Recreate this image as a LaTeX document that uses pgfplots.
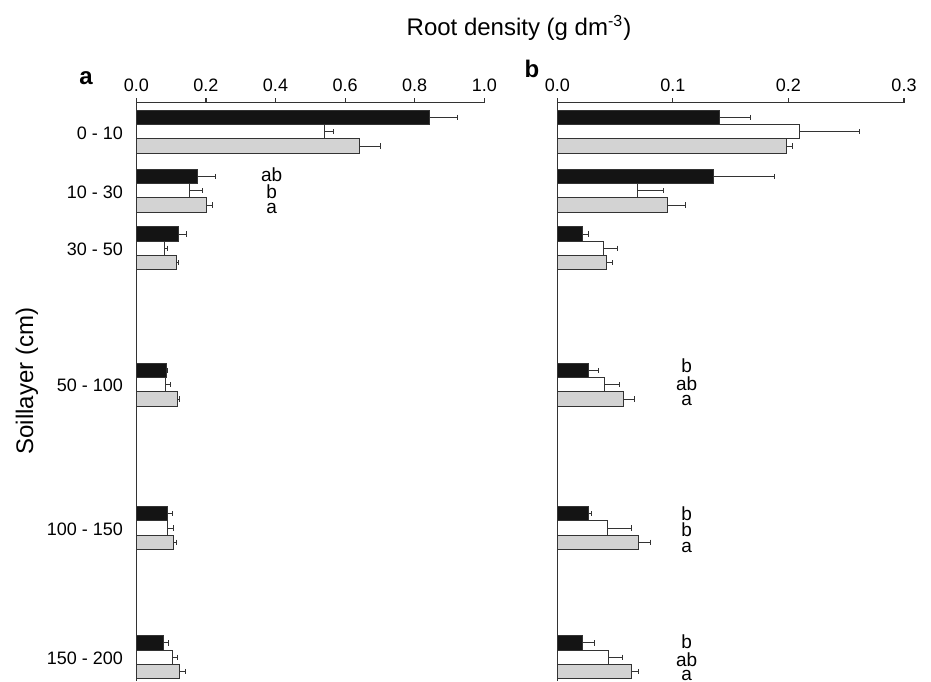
\documentclass[border=0pt]{standalone}
\usepackage{pgfplots}
\pgfplotsset{compat=1.18}
\usepackage{fontspec}
\setmainfont{Liberation Sans}
\definecolor{barblack}{HTML}{141414}
\definecolor{bargrey}{HTML}{D3D3D3}
\definecolor{edge}{HTML}{333333}
\pgfplotsset{
  rootaxis/.style={
    scale only axis, anchor=north west,
    height=289.15pt,
    ymin=-681, ymax=-102.7,
    axis x line*=top, axis y line*=left,
    axis line style={edge, line width=0.6pt, -},
    xtick pos=right, xticklabel pos=right,
    tick align=outside, major tick length=2.2pt,
    xtick style={edge, line width=0.6pt},
    ytick style={draw=none},
    ytick pos=left,
    clip=false,
    xbar, bar width=14.3, bar shift=0pt,
    tick label style={font=\fontsize{9}{10}\selectfont},
    /pgf/number format/assume math mode=true,
    /pgf/number format/fixed, /pgf/number format/fixed zerofill, /pgf/number format/precision=1,
  },
  errs/.style={
    error bars/x dir=plus, error bars/x explicit,
    error bars/error bar style={draw=edge, line width=0.5pt},
    error bars/error mark options={rotate=90, draw=edge, mark size=1.3pt, line width=0.5pt}},
  bb/.style={fill=barblack, draw=edge, line width=0.5pt, errs},
  bw/.style={fill=white, draw=edge, line width=0.5pt, errs},
  bg/.style={fill=bargrey, draw=edge, line width=0.5pt, errs},
}
\tikzset{sig/.style={font=\fontsize{9.5}{10}\selectfont, anchor=center, inner sep=0pt}}
\begin{document}
\begin{tikzpicture}
\useasboundingbox (0,0) rectangle (465.5pt,-340.5pt);
% panel a
\begin{axis}[rootaxis, at={(68.15pt,-51.35pt)}, width=174pt,
  xmin=0, xmax=1, xtick={0,0.2,0.4,0.6,0.8,1.0},
  ytick={-133,-192,-249.5,-385.5,-529,-658},
  yticklabels={0 - 10,10 - 30,30 - 50,50 - 100,100 - 150,150 - 200},
  yticklabel style={xshift=-1pt}]
\addplot[bb] coordinates {
 (0.842,-117.4) +- (0.081,0)
 (0.177,-176.4) +- (0.052,0)
 (0.122,-234.0) +- (0.023,0)
 (0.087,-370.4) +- (0.004,0)
 (0.089,-513.7) +- (0.014,0)
 (0.077,-642.9) +- (0.015,0)};
\addplot[bw] coordinates {
 (0.540,-131.7) +- (0.026,0)
 (0.152,-190.7) +- (0.038,0)
 (0.080,-248.3) +- (0.011,0)
 (0.083,-384.7) +- (0.016,0)
 (0.091,-528.0) +- (0.015,0)
 (0.103,-657.2) +- (0.015,0)};
\addplot[bg] coordinates {
 (0.641,-146.0) +- (0.062,0)
 (0.201,-205.0) +- (0.017,0)
 (0.115,-262.6) +- (0.007,0)
 (0.118,-399.0) +- (0.006,0)
 (0.108,-542.3) +- (0.007,0)
 (0.124,-671.5) +- (0.017,0)};
\node[sig] at (axis cs:0.389,-175) {ab};
\node[sig] at (axis cs:0.389,-191.5) {b};
\node[sig] at (axis cs:0.389,-208) {a};
\end{axis}
% panel b
\begin{axis}[rootaxis, at={(278.65pt,-51.35pt)}, width=173.35pt,
  xmin=0, xmax=0.3, xtick={0,0.1,0.2,0.3},
  ytick=\empty]
\addplot[bb] coordinates {
 (0.1405,-117.4) +- (0.0270,0)
 (0.1353,-176.4) +- (0.0525,0)
 (0.0214,-234.0) +- (0.0054,0)
 (0.0272,-370.4) +- (0.0083,0)
 (0.0272,-513.7) +- (0.0028,0)
 (0.0216,-642.9) +- (0.0102,0)};
\addplot[bw] coordinates {
 (0.2092,-131.7) +- (0.0522,0)
 (0.0692,-190.7) +- (0.0225,0)
 (0.0398,-248.3) +- (0.0119,0)
 (0.0407,-384.7) +- (0.0127,0)
 (0.0436,-528.0) +- (0.0204,0)
 (0.0445,-657.2) +- (0.0115,0)};
\addplot[bg] coordinates {
 (0.1982,-146.0) +- (0.0055,0)
 (0.0952,-205.0) +- (0.0159,0)
 (0.0427,-262.6) +- (0.0052,0)
 (0.0571,-399.0) +- (0.0101,0)
 (0.0701,-542.3) +- (0.0107,0)
 (0.0638,-671.5) +- (0.0063,0)};
\node[sig] at (axis cs:0.112,-366) {b};
\node[sig] at (axis cs:0.112,-383.3) {ab};
\node[sig] at (axis cs:0.112,-400) {a};
\node[sig] at (axis cs:0.112,-513.3) {b};
\node[sig] at (axis cs:0.112,-530) {b};
\node[sig] at (axis cs:0.112,-547.7) {a};
\node[sig] at (axis cs:0.112,-641.7) {b};
\node[sig] at (axis cs:0.112,-659.3) {ab};
\node[sig] at (axis cs:0.112,-675) {a};
\end{axis}
\node[font=\fontsize{12}{14}\selectfont, anchor=base] at (259.5pt,-17.5pt) {Root density (g dm\textsuperscript{-3})};
\node[font=\fontsize{12}{14}\selectfont, rotate=90] at (13.5pt,-190.5pt) {Soillayer (cm)};
\node[font=\bfseries\fontsize{12}{14}\selectfont, anchor=base] at (43pt,-42pt) {a};
\node[font=\bfseries\fontsize{12}{14}\selectfont, anchor=base] at (266pt,-38.5pt) {b};
\end{tikzpicture}
\end{document}
